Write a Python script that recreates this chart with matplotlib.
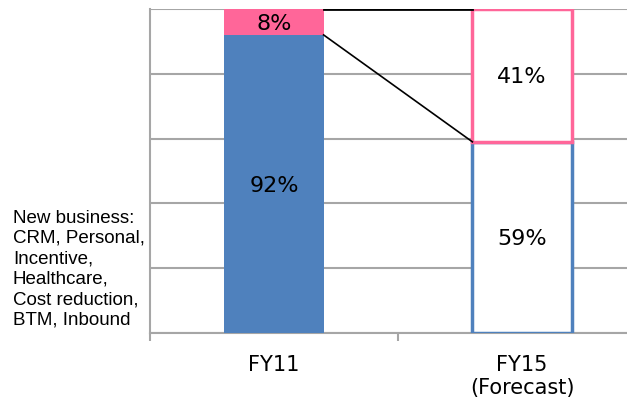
import matplotlib
matplotlib.use("Agg")
import matplotlib.pyplot as plt

categories = ["FY11", "FY15\n(Forecast)"]
existing = [92, 59]
new_biz = [8, 41]
labels_existing = ["92%", "59%"]
labels_new = ["8%", "41%"]
side_note = "New business:\nCRM, Personal,\nIncentive,\nHealthcare,\nCost reduction,\nBTM, Inbound"

BLUE = "#4F81BD"
PINK = "#FF6699"
GRID = "#A6A6A6"

fig = plt.figure(figsize=(6.27, 4.07), dpi=100)
W, H = 627, 407
left, right, top, bottom = 150, 627, 9, 333
ax = fig.add_axes([left / W, 1 - bottom / H, (right - left) / W, (bottom - top) / H])

x = [0, 1]
bw = 0.4
# FY11 solid
ax.bar(x[0], existing[0], width=bw, color=BLUE, zorder=3)
ax.bar(x[0], new_biz[0], bottom=existing[0], width=bw, color=PINK, zorder=3)
# FY15 outlined
ax.bar(x[1], existing[1], width=bw, facecolor="white", edgecolor=BLUE, linewidth=2.5, zorder=3)
ax.bar(x[1], new_biz[1], bottom=existing[1], width=bw, facecolor="white", edgecolor=PINK, linewidth=2.5, zorder=4)

# connector lines
ax.plot([x[0] + bw / 2, x[1] - bw / 2], [existing[0], existing[1]], color="black", lw=1.2, zorder=5)
ax.plot([x[0] + bw / 2, x[1] - bw / 2], [100, 100], color="black", lw=2, zorder=5)

for i in range(2):
    ax.text(x[i], existing[i] / 2, labels_existing[i], ha="center", va="center_baseline", fontsize=16, zorder=6)
    ax.text(x[i], existing[i] + new_biz[i] / 2, labels_new[i], ha="center", va="center_baseline", fontsize=16, zorder=6)

ax.set_yticks([0, 20, 40, 60, 80, 100])
ax.set_yticklabels([])
ax.tick_params(axis="y", length=0)
ax.grid(axis="y", color=GRID, lw=1.5, zorder=0)
ax.set_xticks([-0.5, 0.5, 1.5])
ax.set_xticklabels([])
ax.set_xticks(x, minor=True)
ax.set_xticklabels(categories, minor=True, fontsize=15, linespacing=1.15)
ax.tick_params(axis="x", which="minor", length=0, pad=16)
ax.tick_params(axis="x", which="major", length=6, color=GRID, width=1.5)
ax.set_ylim(0, 100)
ax.set_xlim(-0.5, -0.5 + (right - left) / 248)
for s in ["top", "right"]:
    ax.spines[s].set_visible(False)
for s in ["left", "bottom"]:
    ax.spines[s].set_color(GRID)
    ax.spines[s].set_linewidth(1.5)

fig.text(13 / W, 1 - 269 / H, side_note, ha="left", va="center", fontsize=13.5,
         family="Liberation Sans", linespacing=1.26)

fig.savefig("out.png", dpi=100)
